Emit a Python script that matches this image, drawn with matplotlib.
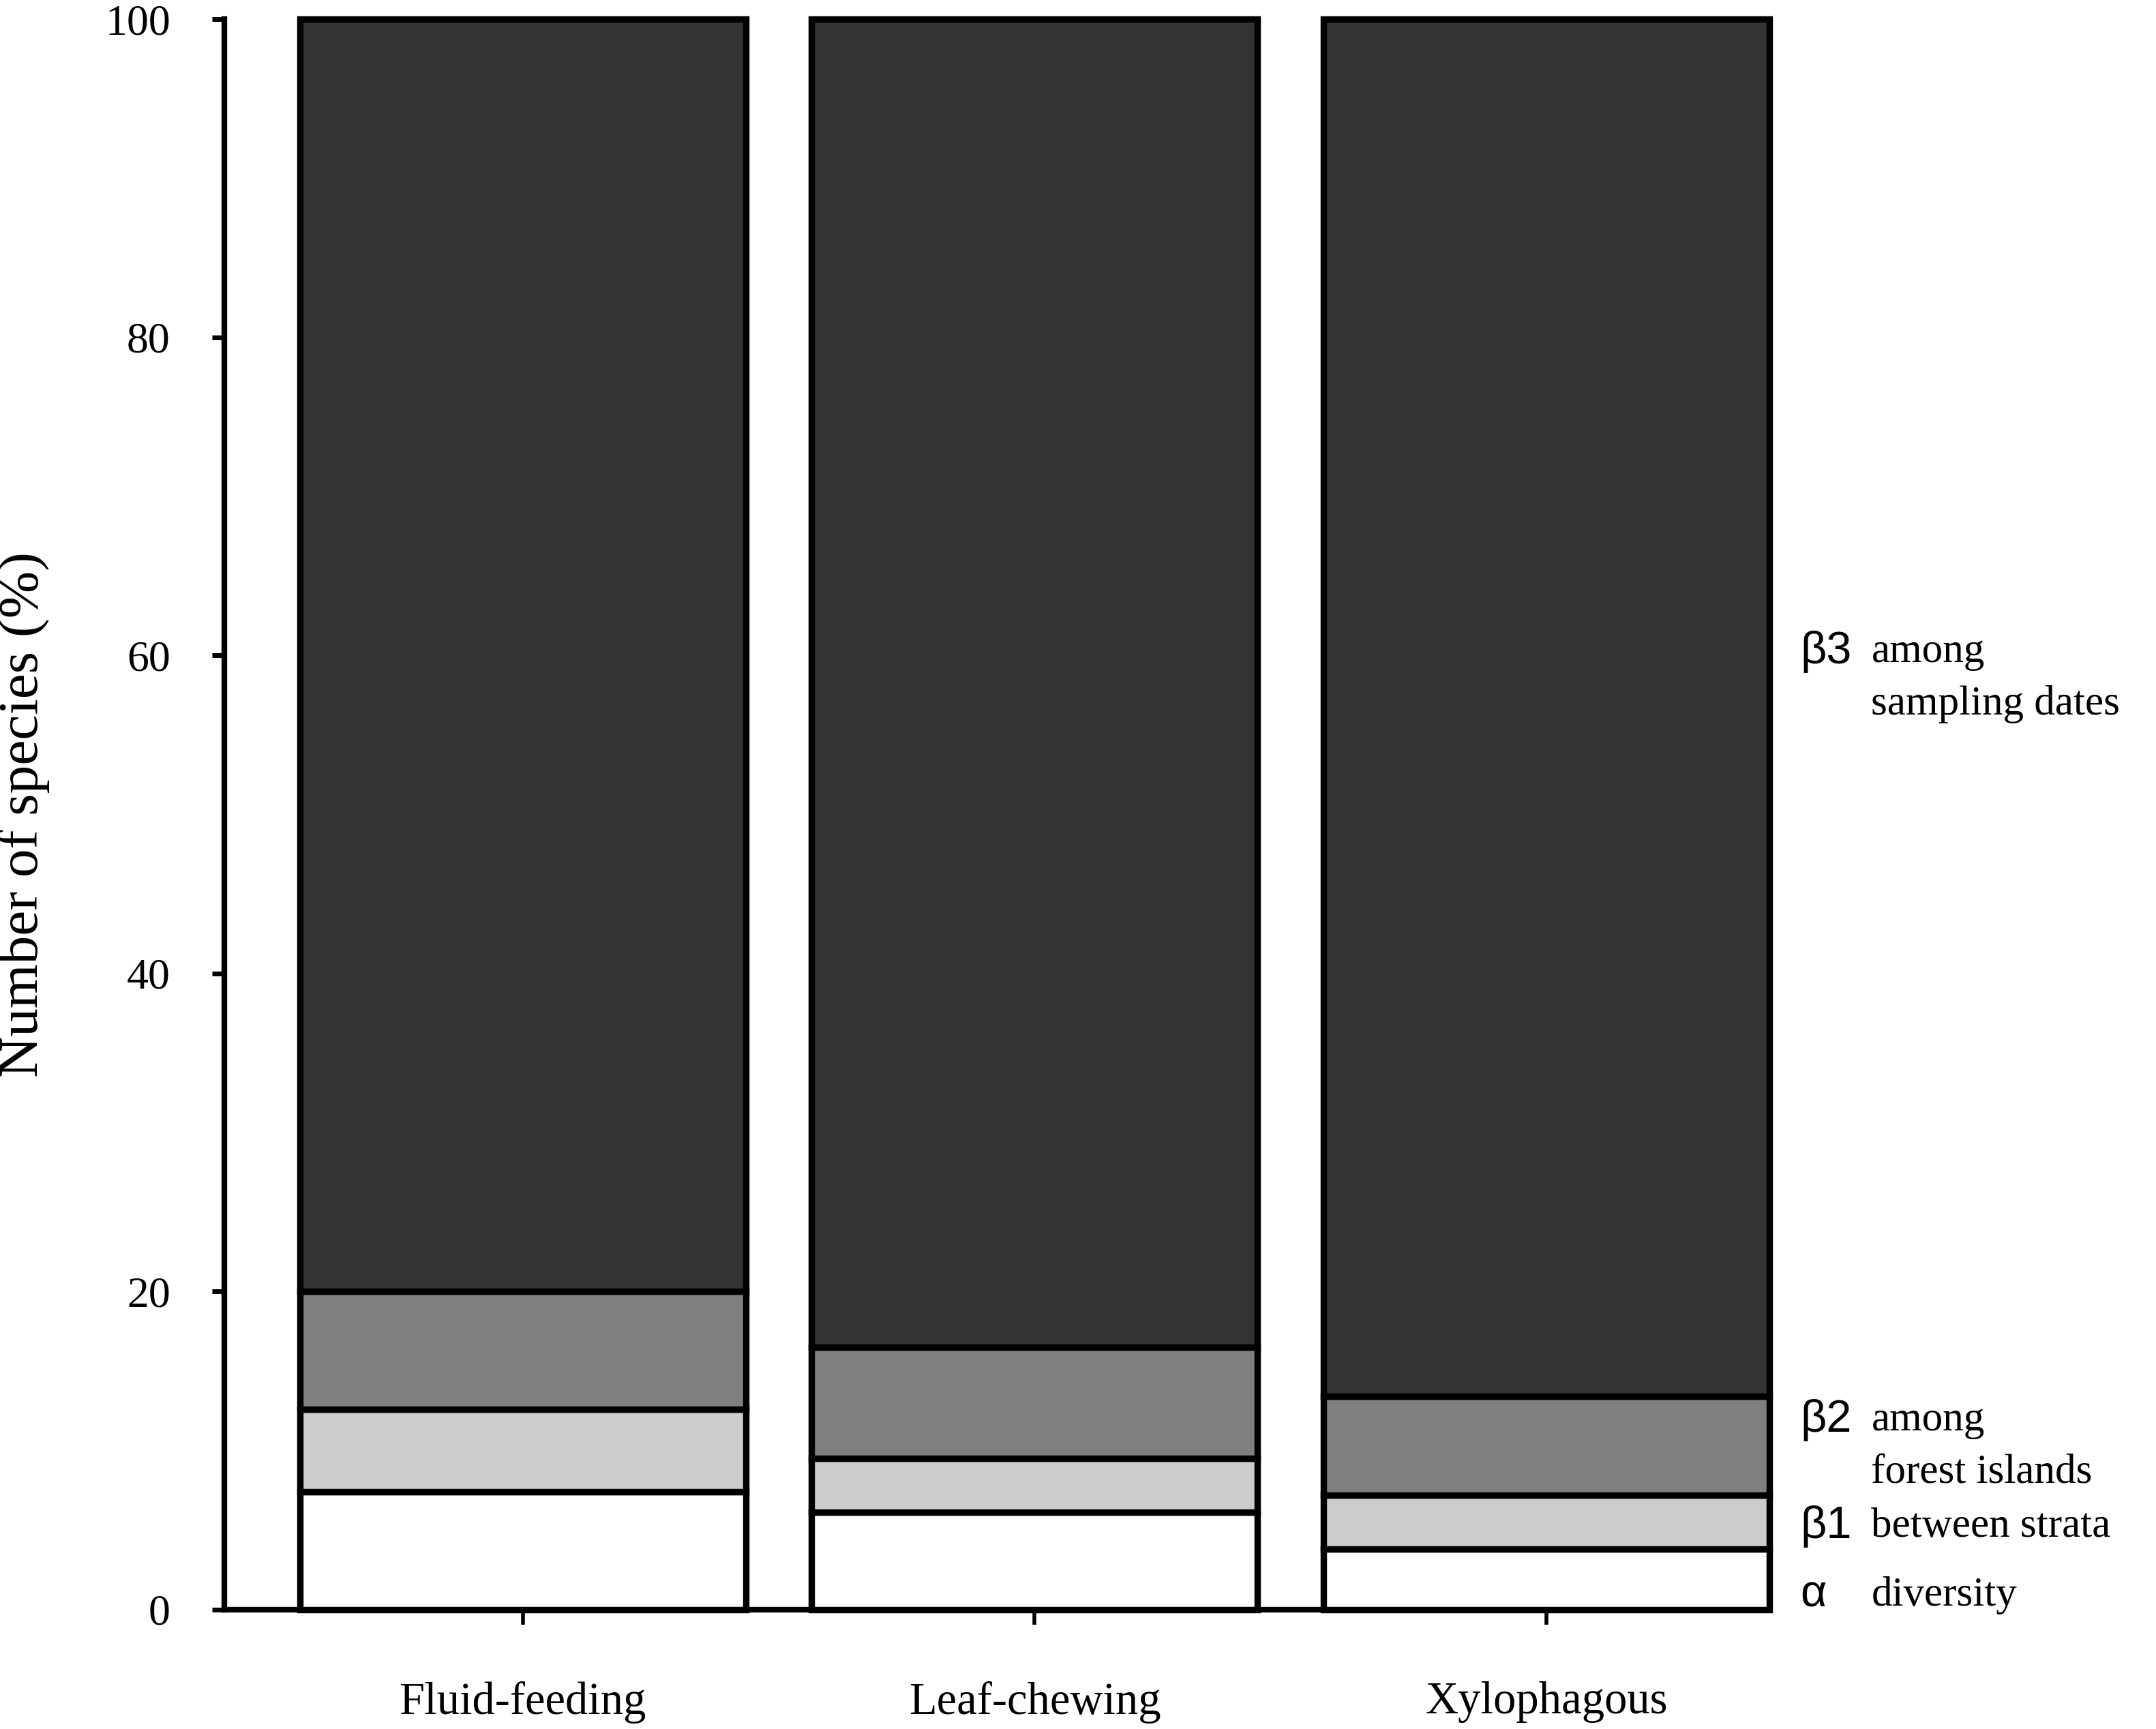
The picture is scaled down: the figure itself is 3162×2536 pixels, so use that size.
import matplotlib
matplotlib.use("Agg")
import matplotlib.pyplot as plt
import numpy as np

# data (percent of species)
groups = ["Fluid-feeding", "Leaf-chewing", "Xylophagous"]
alpha_div = [7.4, 6.1, 3.8]
beta1_strata = [5.2, 3.4, 3.4]
beta2_islands = [7.4, 7.0, 6.2]
beta3_dates = [80.0, 83.5, 86.6]

symbols = ["\u03b1", "\u03b21", "\u03b22", "\u03b23"]
descr = ["diversity", "between strata", "among\nforest islands", "among\nsampling dates"]
label_y = [0.9, 5.2, 10.3, 58.6]

colors = ["#ffffff", "#cccccc", "#808080", "#333333"]
serif = "Liberation Serif"
sans = "Liberation Sans"

fig = plt.figure(figsize=(15.81, 12.68), dpi=200)
ax = fig.add_axes([0.104, 0.0692, 0.7168, 0.9197])

x = np.arange(len(groups))
width = 0.871
bottom = np.zeros(len(groups))
for vals, col in zip([alpha_div, beta1_strata, beta2_islands, beta3_dates], colors):
    ax.bar(x, vals, width, bottom=bottom, color=col, edgecolor="black",
           linewidth=3.4, clip_on=False, zorder=3)
    bottom += np.array(vals)

ax.set_xlim(-0.583, 2 + width / 2)
ax.set_ylim(0, 100)
ax.set_yticks([0, 20, 40, 60, 80, 100])
ax.set_xticks(x)
ax.set_xticklabels(groups, fontsize=24, family=serif)
for lab in ax.get_yticklabels():
    lab.set_family(serif)
ax.tick_params(axis="y", labelsize=23, length=6.5, width=2.5, pad=22)
ax.tick_params(axis="x", length=8, width=2.0, pad=30)

for s in ["top", "right"]:
    ax.spines[s].set_visible(False)
for s in ["left", "bottom"]:
    ax.spines[s].set_linewidth(3.0)

ax.set_ylabel("Number of species (%)", fontsize=30, family=serif)
ax.yaxis.set_label_coords(-0.113, 0.5)

# labels on the right side of the last bar
for sym, txt, yy in zip(symbols, descr, label_y):
    lines = txt.split("\n")
    top_y = yy + (len(lines) - 1) * 1.6
    ax.text(2.495, top_y, sym, fontsize=24, family=sans, va="center",
            ha="left", clip_on=False)
    for i, ln in enumerate(lines):
        ax.text(2.634, top_y - i * 3.3, ln, fontsize=22, family=serif,
                va="center", ha="left", clip_on=False)

fig.savefig("out.png", dpi=200)
